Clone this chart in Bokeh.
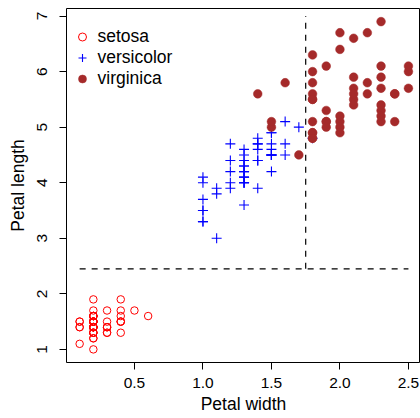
from bokeh.plotting import figure
from bokeh.models import Range1d, FixedTicker, Legend, LegendItem, Label
from bokeh.embed import file_html
from bokeh.resources import INLINE

setosa_width = [0.2,0.2,0.2,0.2,0.2,0.4,0.3,0.2,0.2,0.1,0.2,0.2,0.1,0.1,0.2,0.4,0.4,0.3,0.3,0.3,0.2,0.4,0.2,0.5,0.2,0.2,0.4,0.2,0.2,0.2,0.2,0.4,0.1,0.2,0.2,0.2,0.2,0.1,0.2,0.2,0.3,0.3,0.2,0.6,0.4,0.3,0.2,0.2,0.2,0.2]
setosa_length = [1.4,1.4,1.3,1.5,1.4,1.7,1.4,1.5,1.4,1.5,1.5,1.6,1.4,1.1,1.2,1.5,1.3,1.4,1.7,1.5,1.7,1.5,1.0,1.7,1.9,1.6,1.6,1.5,1.4,1.6,1.6,1.5,1.5,1.4,1.5,1.2,1.3,1.4,1.3,1.5,1.3,1.3,1.3,1.6,1.9,1.4,1.6,1.4,1.5,1.4]

versicolor_width = [1.4,1.5,1.5,1.3,1.5,1.3,1.6,1.0,1.3,1.4,1.0,1.5,1.0,1.4,1.3,1.4,1.5,1.0,1.5,1.1,1.8,1.3,1.5,1.2,1.3,1.4,1.4,1.7,1.5,1.0,1.1,1.0,1.2,1.6,1.5,1.6,1.5,1.3,1.3,1.3,1.2,1.4,1.2,1.0,1.3,1.2,1.3,1.3,1.1,1.3]
versicolor_length = [4.7,4.5,4.9,4.0,4.6,4.5,4.7,3.3,4.6,3.9,3.5,4.2,4.0,4.7,3.6,4.4,4.5,4.1,4.5,3.9,4.8,4.0,4.9,4.7,4.3,4.4,4.8,5.0,4.5,3.5,3.8,3.7,3.9,5.1,4.5,4.5,4.7,4.4,4.1,4.0,4.4,4.6,4.0,3.3,4.2,4.2,4.2,4.3,3.0,4.1]

virginica_width = [2.5,1.9,2.1,1.8,2.2,2.1,1.7,1.8,1.8,2.5,2.0,1.9,2.1,2.0,2.4,2.3,1.8,2.2,2.3,1.5,2.3,2.0,2.0,1.8,2.1,1.8,1.8,1.8,2.1,1.6,1.9,2.0,2.2,1.5,1.4,2.3,2.4,1.8,1.8,2.1,2.4,2.3,1.9,2.3,2.5,2.3,1.9,2.0,2.3,1.8]
virginica_length = [6.0,5.1,5.9,5.6,5.8,6.6,4.5,6.3,5.8,6.1,5.1,5.3,5.5,5.0,5.1,5.3,5.5,6.7,6.9,5.0,5.7,4.9,6.7,4.9,5.7,6.0,4.8,4.9,5.6,5.8,6.1,6.4,5.6,5.1,5.6,6.1,5.6,5.5,4.8,5.4,5.6,5.1,5.1,5.9,5.7,5.2,5.0,5.2,5.4,5.1]

species = ["setosa", "versicolor", "virginica"]

# decision-tree split values
split_length = 2.45
split_width = 1.75
split_top = 7.0

x_ticks = [0.5, 1.0, 1.5, 2.0, 2.5]
x_tick_labels = ["0.5", "1.0", "1.5", "2.0", "2.5"]
y_ticks = [1, 2, 3, 4, 5, 6, 7]
y_tick_labels = ["1", "2", "3", "4", "5", "6", "7"]

x_title = "Petal width"
y_title = "Petal length"
neighbor_text = ["virginica", "0/1/45"]

FONT = "Liberation Sans"

all_w = setosa_width + versicolor_width + virginica_width
all_l = setosa_length + versicolor_length + virginica_length
wmin, wmax = min(all_w), max(all_w)
lmin, lmax = min(all_l), max(all_l)
xpad = (wmax - wmin) * 0.04
ypad = (lmax - lmin) * 0.04

p = figure(width=420, height=418, output_backend="svg", toolbar_location=None,
           x_range=Range1d(wmin - xpad, 2.588), y_range=Range1d(lmin - ypad, lmax + ypad),
           min_border_left=66, min_border_right=0, min_border_top=8, min_border_bottom=56)
p.styles = {"position": "absolute", "left": "0px", "top": "0px"}

p.grid.visible = False
p.outline_line_color = "black"
p.outline_line_width = 1
p.background_fill_color = "white"
p.border_fill_color = "white"

for ax in (p.xaxis[0], p.yaxis[0]):
    ax.axis_line_color = None
    ax.major_tick_out = 7
    ax.major_tick_in = 0
    ax.minor_tick_out = 0
    ax.minor_tick_in = 0
    ax.major_tick_line_color = "black"
    ax.major_label_text_font = FONT
    ax.major_label_text_font_size = "15.5px"
    ax.major_label_text_color = "black"
    ax.axis_label_text_font = FONT
    ax.axis_label_text_font_size = "17.5px"
    ax.axis_label_text_font_style = "normal"
    ax.axis_label_text_color = "black"

p.xaxis.ticker = FixedTicker(ticks=x_ticks)
p.xaxis.major_label_overrides = {t: s for t, s in zip(x_ticks, x_tick_labels)}
p.yaxis.ticker = FixedTicker(ticks=y_ticks)
p.yaxis.major_label_overrides = {t: s for t, s in zip(y_ticks, y_tick_labels)}
p.yaxis.major_label_orientation = "vertical"
p.xaxis.major_label_standoff = 8
p.yaxis.major_label_standoff = 12
p.xaxis.axis_label = x_title
p.yaxis.axis_label = y_title
p.xaxis.axis_label_standoff = 3
p.yaxis.axis_label_standoff = 7

# split lines
p.line(x=[wmin, wmax], y=[split_length, split_length], line_color="black",
       line_width=1.2, line_dash="6 6")
p.line(x=[split_width, split_width], y=[split_length, split_top], line_color="black",
       line_width=1.2, line_dash="6 6")

r1 = p.scatter(x=setosa_width, y=setosa_length, marker="circle", size=7.5,
               fill_color=None, line_color="#FF0000", line_width=1)
r2 = p.scatter(x=versicolor_width, y=versicolor_length, marker="cross", size=10,
               line_color="#0000FF", line_width=1.1)
r3 = p.scatter(x=virginica_width, y=virginica_length, marker="circle", size=8.7,
               fill_color="#A52A2A", line_color="#A52A2A", line_width=0.5)

legend = Legend(items=[LegendItem(label=species[0], renderers=[r1]),
                       LegendItem(label=species[1], renderers=[r2]),
                       LegendItem(label=species[2], renderers=[r3])],
                location=(5.5, 273.5), padding=0, margin=0, spacing=0,
                glyph_width=20, glyph_height=21, label_height=21, label_standoff=6,
                label_text_font=FONT, label_text_font_size="17.5px",
                label_text_color="black",
                border_line_alpha=0, background_fill_alpha=0)
p.add_layout(legend)

# tail of a neighbouring panel's leaf label, cut off at the left edge in the reference
p.add_layout(Label(x=-55, y=14, x_units="screen", y_units="screen", text=neighbor_text[0],
                   text_align="right", text_baseline="middle", text_font=FONT,
                   text_font_size="17.5px", text_color="black"))
p.add_layout(Label(x=-55, y=-6, x_units="screen", y_units="screen", text=neighbor_text[1],
                   text_align="right", text_baseline="middle", text_font=FONT,
                   text_font_size="17.5px", text_color="black"))

open("out.html", "w").write(file_html(p, INLINE))
